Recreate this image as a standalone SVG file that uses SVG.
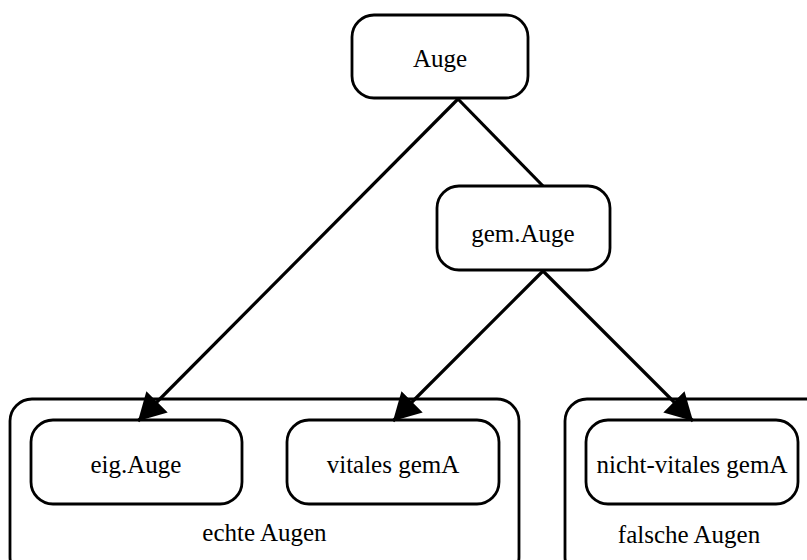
<svg xmlns="http://www.w3.org/2000/svg" width="807" height="560" viewBox="0 0 807 560">
<style>
.box{fill:#fff;stroke:#000;stroke-width:2.8}
.clu{fill:none;stroke:#000;stroke-width:2.8}
.lbl{font-family:"Liberation Serif",serif;font-size:25px;fill:#000;text-anchor:middle}
.edge{stroke:#000;stroke-width:3.2;fill:none}
</style>
<defs>
<marker id="ah" markerUnits="userSpaceOnUse" markerWidth="28" markerHeight="32" refX="27" refY="16" orient="auto" viewBox="0 0 28 32">
<path d="M0,1 L27,16 L0,31 z" fill="#000"/>
</marker>
</defs>
<rect width="807" height="560" fill="#fff"/>
<g id="cluster_echte">
<rect class="clu" x="10" y="399" width="509" height="180" rx="22"/>
<text class="lbl" x="264.5" y="541">echte Augen</text>
</g>
<g id="cluster_falsche">
<rect class="clu" x="565" y="399" width="270" height="180" rx="22"/>
<text class="lbl" x="689" y="543">falsche Augen</text>
</g>
<g id="auge">
<rect class="box" x="352" y="15" width="176" height="83" rx="22"/>
<text class="lbl" x="440" y="67">Auge</text>
</g>
<g id="gemauge">
<rect class="box" x="437" y="186" width="173" height="84" rx="22"/>
<text class="lbl" x="523" y="242">gem.Auge</text>
</g>
<g id="eigauge">
<rect class="box" x="31" y="420" width="211" height="84" rx="22"/>
<text class="lbl" x="136" y="473">eig.Auge</text>
</g>
<g id="vitales">
<rect class="box" x="287" y="420" width="212" height="84" rx="22"/>
<text class="lbl" x="393" y="473">vitales gemA</text>
</g>
<g id="nichtvitales">
<rect class="box" x="586" y="420" width="212" height="84" rx="22"/>
<text class="lbl" x="692" y="473">nicht-vitales gemA</text>
</g>
<g id="connectors">
<line class="edge" x1="458" y1="99" x2="138" y2="421" marker-end="url(#ah)"/>
<line class="edge" x1="458" y1="99" x2="543" y2="186"/>
<line class="edge" x1="543" y1="271" x2="393" y2="421" marker-end="url(#ah)"/>
<line class="edge" x1="543" y1="271" x2="693" y2="421" marker-end="url(#ah)"/>
</g>
</svg>
